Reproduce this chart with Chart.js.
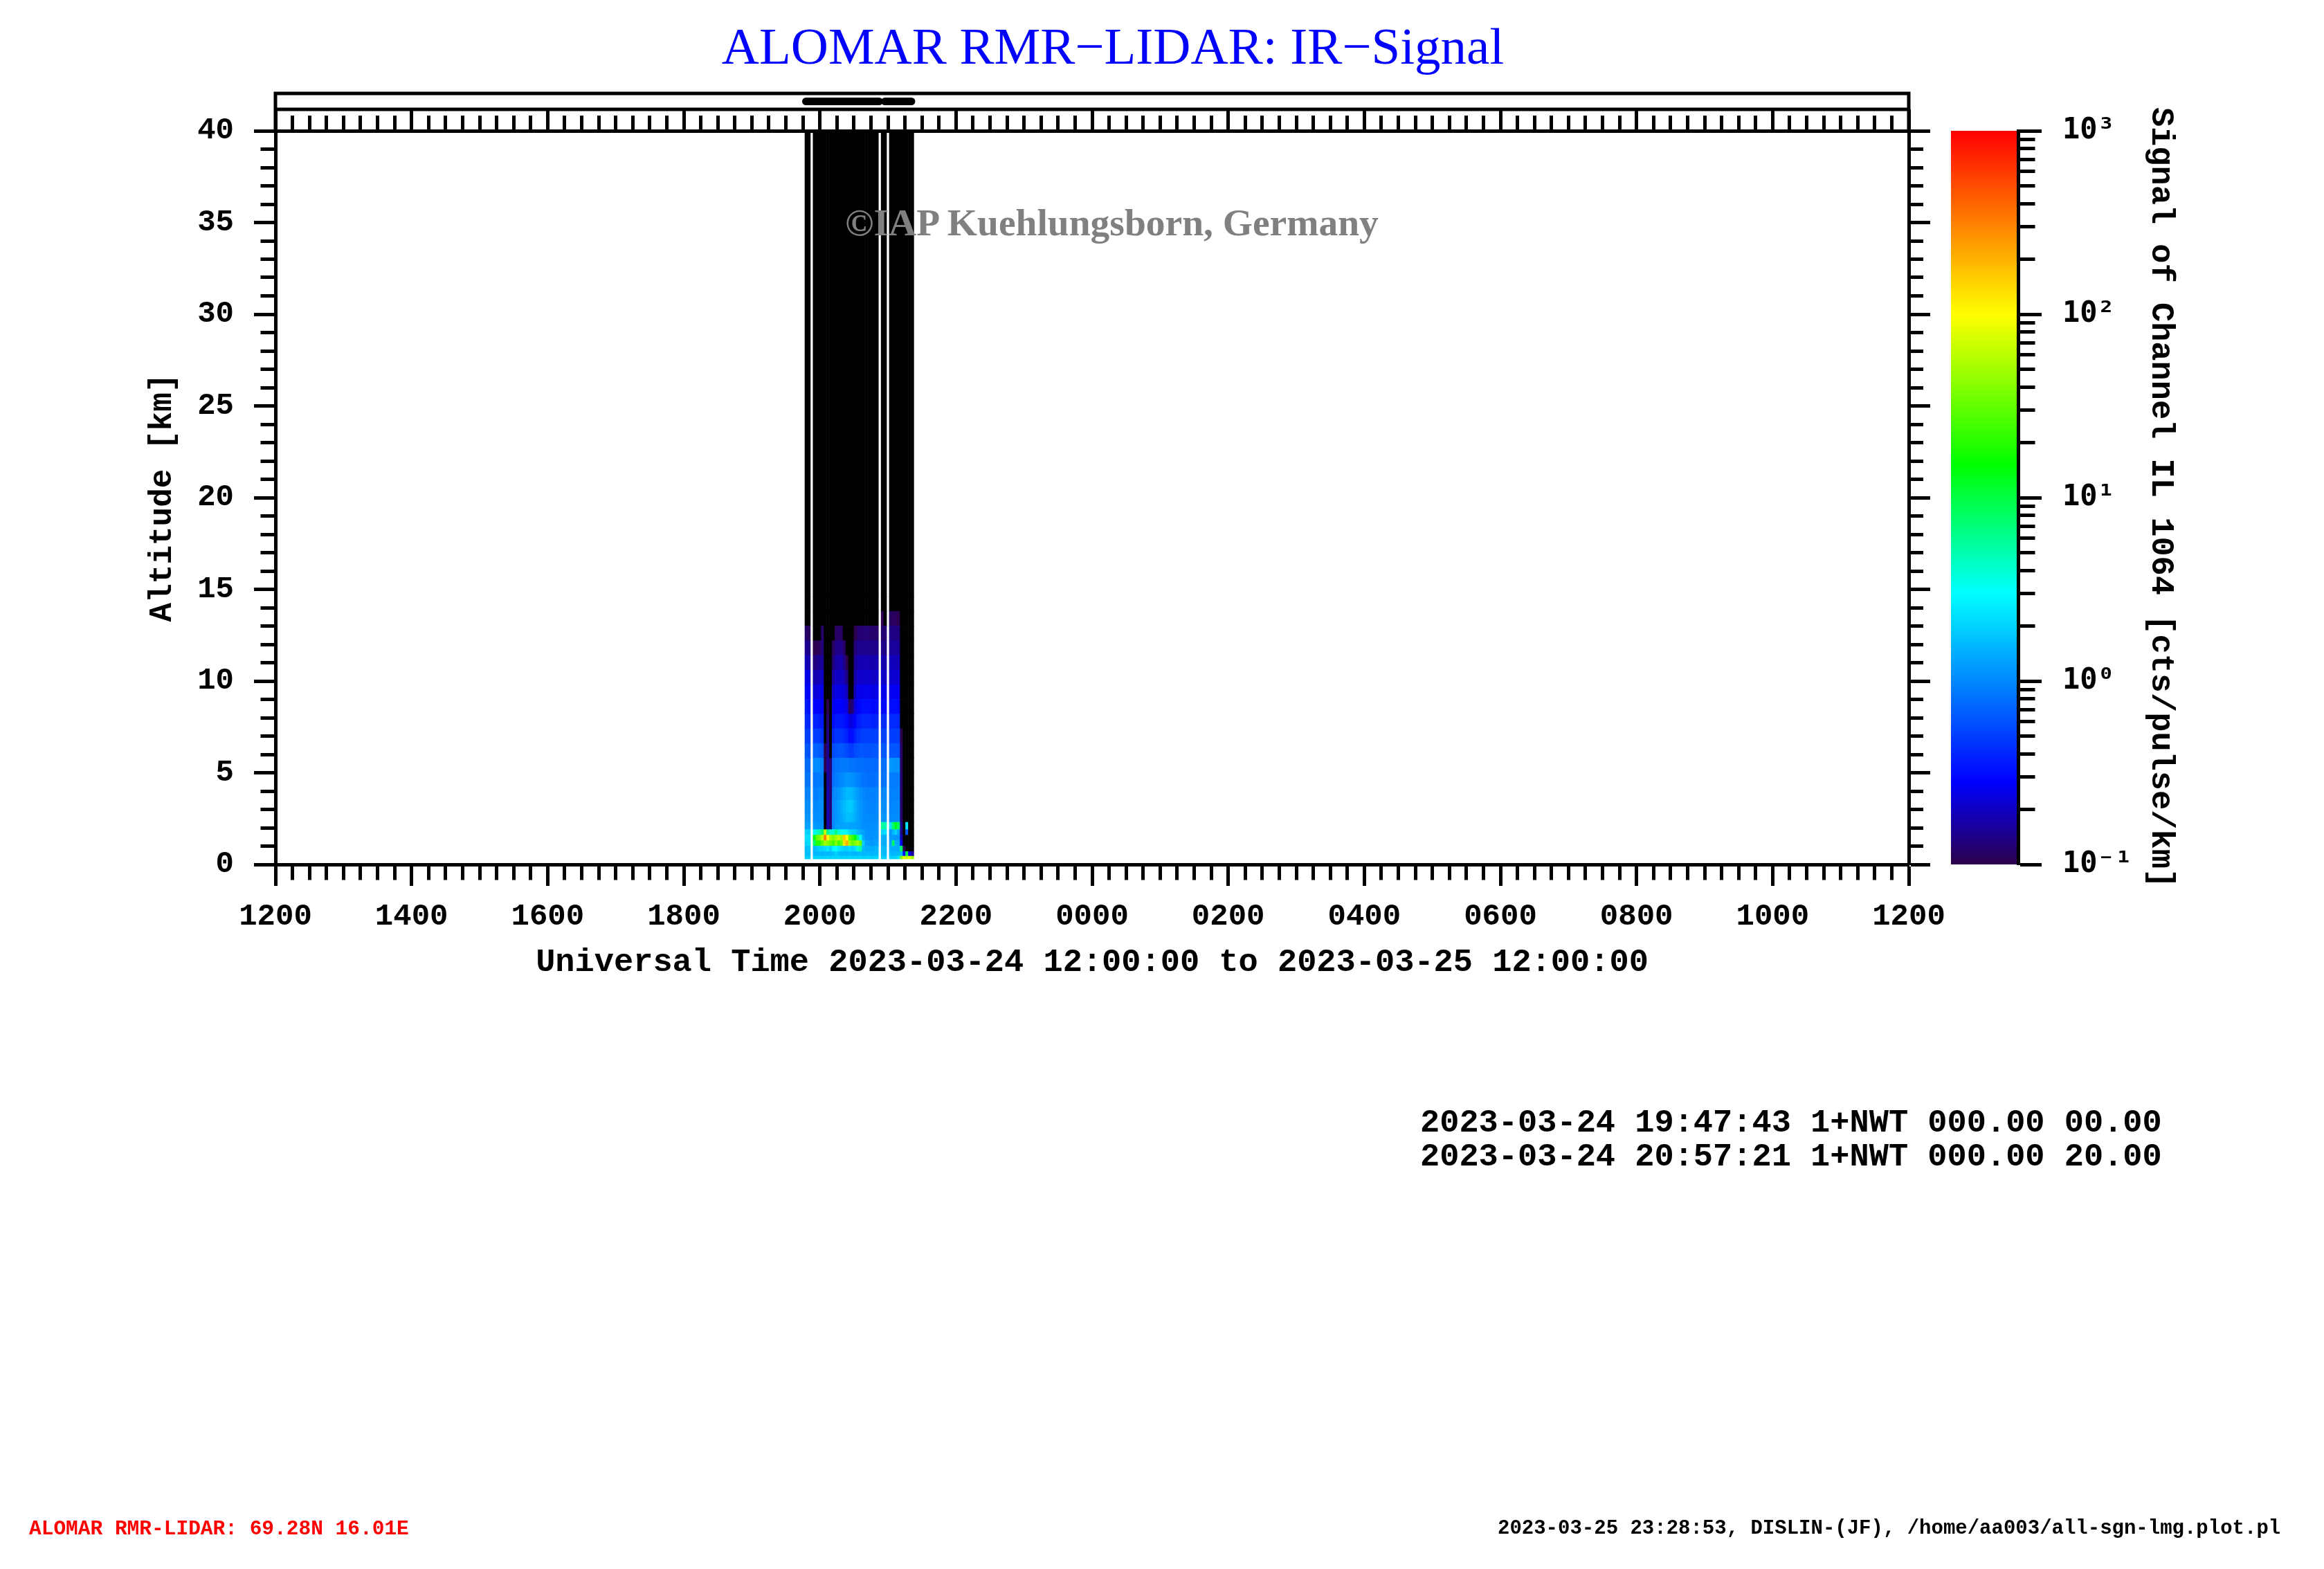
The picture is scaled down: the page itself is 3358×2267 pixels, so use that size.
<!DOCTYPE html>
<html><head><meta charset="utf-8">
<script src="https://cdn.jsdelivr.net/npm/chart.js@4.4.1/dist/chart.umd.min.js"></script>
<style>
html,body{margin:0;padding:0;background:#fff;}
#wrap{position:relative;width:3358px;height:2267px;overflow:hidden;background:#fff;}
#c{position:absolute;left:0;top:0;}
.t{position:absolute;white-space:pre;line-height:1;margin:0;}
</style></head><body>
<div id="wrap">
<canvas id="c" width="3358" height="2267"></canvas>
<div class="t" style="left:1221px;top:290px;font:bold 55.5px 'Liberation Serif';color:#808080;">©IAP Kuehlungsborn, Germany</div>
<div class="t" id="run0" style="left:2052px;top:1596px;font:bold 47px 'Liberation Mono';color:#000;"></div>
<div class="t" id="run1" style="left:2052px;top:1645px;font:bold 47px 'Liberation Mono';color:#000;"></div>
<div class="t" style="left:42px;top:2192px;font:bold 29.5px 'Liberation Mono';color:#ff0000;">ALOMAR RMR-LIDAR: 69.28N 16.01E</div>
<div class="t" style="left:2164px;top:2192px;font:bold 29px 'Liberation Mono';color:#000;">2023-03-25 23:28:53, DISLIN-(JF), /home/aa003/all-sgn-lmg.plot.pl</div>
</div>
<script>
// ================= DATA =================
// profile column centres, hours after 2023-03-24 12:00 UT
const timeCols = [
  7.80, 7.84,
  7.92, 7.96, 8.00, 8.04,
  8.08, 8.12, 8.16, 8.20,
  8.24, 8.28, 8.32, 8.36, 8.40,
  8.44, 8.48, 8.52,
  8.56, 8.60, 8.64, 8.68, 8.72, 8.76, 8.80, 8.84,
  8.92, 8.96,
  9.04, 9.08, 9.12, 9.16,
  9.20, 9.24, 9.28, 9.32, 9.36
];
// altitude bin edges [km]
const altEdges = [0.3, 0.45, 0.7, 1.0, 1.3, 1.6, 1.9, 2.3, 2.8, 3.5, 4.2, 5.0, 5.8, 6.6, 7.4, 8.2, 9.0, 9.8, 10.6, 11.4, 12.2, 13.0, 13.8, 14.6, 40];
// log10 of signal [cts/pulse/km] per altitude bin (values below -1 = below scale, drawn black)
const sigL00 = [0.30,0.30, 0.32,0.30,0.32,0.30, 0.30,0.32,0.30,0.32, 0.30,0.32,0.30,0.32,0.30, 0.32,0.30,0.32, 0.30,0.32,0.30,0.30,0.32,0.30,0.30,0.32, 0.30,0.30, 0.30,0.30,0.32,0.40, 1.60,1.90,1.80,1.90,1.70];
const sigL01 = [0.22,0.20, 0.18,0.20,0.20,0.18, 0.20,0.18,0.20,0.22, 0.30,0.22,0.20,0.20,0.18, 0.20,0.20,0.18, 0.20,0.22,0.18,0.20,0.20,0.18,0.20,0.20, 0.22,0.20, 0.20,0.18,0.20,0.20, 0.20,-0.50,1.00,-0.60,-0.80];
const sigL02 = [0.22,0.25, 0.20,0.25,0.30,0.30, 0.35,0.40,0.30,0.45, 0.50,0.40,0.35,0.30,0.30, 0.35,0.30,0.35, 0.60,0.70,0.20,0.15,0.15,0.15,0.15,0.18, 0.20,0.20, 0.15,0.15,0.15,0.15, 0.90,-1.00,-1.50,-1.50,-1.20];
const sigL03 = [0.30,0.35, 0.90,1.30,1.30,1.50, 1.70,1.60,1.50,1.40, 1.60,1.40,1.50,2.10,2.30, 1.70,1.50,1.60, 1.70,1.50,0.30,0.10,0.08,0.05,0.08,0.10, 0.15,0.15, 0.10,0.90,0.15,0.12, -0.60,-1.50,-1.50,-1.50,-1.50];
const sigL04 = [0.35,0.35, 1.10,1.50,1.60,1.80, 2.50,2.00,1.70,1.60, 1.70,1.80,1.70,2.20,2.00, 1.50,1.40,1.20, 0.80,0.50,0.15,0.05,0.03,0.03,0.05,0.05, 0.15,0.15, 0.05,0.08,0.05,0.05, -0.75,-1.50,-1.50,-1.50,-1.50];
const sigL05 = [0.30,0.28, 0.45,0.60,0.70,0.90, 1.80,0.80,0.60,0.60, 0.80,0.60,0.50,0.50,0.45, 0.35,0.30,0.28, 0.20,0.15,0.10,0.05,0.03,0.03,0.03,0.05, 0.30,0.35, 0.05,0.20,0.30,0.10, -0.85,-1.50,-0.20,-1.50,-1.50];
const sigL06 = [0.10,0.10, 0.08,0.05,0.05,0.05, -1.50,-0.75,-0.90,0.00, 0.08,0.10,0.10,0.12,0.12, 0.10,0.10,0.10, 0.08,0.05,0.03,0.02,0.02,0.02,0.02,0.03, 0.75,0.70, 0.35,0.90,1.10,0.90, -0.80,-1.50,0.40,-1.50,-1.50];
const sigL07 = [0.05,0.05, 0.03,0.03,0.03,0.02, -1.50,-0.75,-0.90,0.00, 0.05,0.08,0.12,0.18,0.22, 0.22,0.20,0.15, 0.10,0.05,0.02,0.00,0.00,0.00,0.00,0.00, 0.05,0.05, 0.00,0.02,0.02,0.02, -0.92,-1.50,-1.50,-1.50,-1.50];
const sigL08 = [0.02,0.02, 0.00,0.00,0.02,0.02, -1.50,-0.75,-0.90,0.00, 0.05,0.10,0.15,0.20,0.25, 0.28,0.25,0.18, 0.10,0.05,0.02,0.00,-0.02,-0.02,-0.02,0.00, 0.02,0.02, -0.02,0.00,0.00,0.00, -0.92,-1.50,-1.50,-1.50,-1.50];
const sigL09 = [-0.02,-0.02, -0.03,-0.03,0.00,0.00, -1.50,-0.75,-0.90,-0.02, 0.02,0.05,0.10,0.15,0.20, 0.20,0.18,0.12, 0.08,0.03,0.00,-0.03,-0.03,-0.03,-0.03,-0.02, 0.00,0.00, -0.03,-0.02,-0.02,-0.03, -0.92,-1.50,-1.50,-1.50,-1.50];
const sigL10 = [-0.08,-0.08, -0.08,-0.06,-0.05,-0.05, -1.50,-0.78,-0.90,-0.10, -0.05,-0.03,0.00,0.03,0.05, 0.05,0.03,0.00, -0.03,-0.05,-0.08,-0.08,-0.10,-0.10,-0.10,-0.08, -0.08,-0.08, -0.05,-0.05,-0.05,-0.05, -0.92,-1.50,-1.50,-1.50,-1.50];
const sigL11 = [-0.12,-0.12, 0.00,0.02,0.00,-0.03, -1.00,-0.80,-0.90,-0.12, -0.08,-0.08,-0.06,-0.05,-0.05, -0.08,-0.08,-0.08, -0.10,-0.10,-0.10,-0.12,-0.12,-0.12,-0.12,-0.12, -0.10,-0.10, 0.05,0.05,0.03,0.03, -0.95,-1.50,-1.50,-1.50,-1.50];
const sigL12 = [-0.20,-0.22, -0.15,-0.15,-0.18,-0.20, -1.00,-0.82,-1.30,-0.25, -0.22,-0.20,-0.20,-0.22,-0.25, -0.30,-0.30,-0.25, -0.22,-0.20,-0.20,-0.22,-0.22,-0.22,-0.20,-0.20, -0.20,-0.20, -0.20,-0.20,-0.20,-0.22, -0.95,-1.50,-1.50,-1.50,-1.50];
const sigL13 = [-0.30,-0.30, -0.30,-0.30,-0.32,-0.35, -1.50,-0.85,-1.50,-0.40, -0.35,-0.35,-0.35,-0.38,-0.42, -0.50,-0.50,-0.42, -0.35,-0.32,-0.30,-0.30,-0.30,-0.30,-0.30,-0.30, -0.28,-0.28, -0.30,-0.30,-0.30,-0.30, -1.00,-1.50,-1.50,-1.50,-1.50];
const sigL14 = [-0.38,-0.40, -0.42,-0.42,-0.45,-0.45, -1.50,-0.90,-1.50,-0.50, -0.45,-0.45,-0.45,-0.48,-0.52, -0.62,-0.62,-0.55, -0.45,-0.42,-0.40,-0.40,-0.40,-0.42,-0.42,-0.40, -0.38,-0.38, -0.38,-0.38,-0.38,-0.40, -1.50,-1.50,-1.50,-1.50,-1.50];
const sigL15 = [-0.45,-0.48, -0.55,-0.55,-0.55,-0.55, -1.50,-1.00,-1.50,-0.60, -0.55,-0.55,-0.55,-0.58,-0.62, -0.95,-0.90,-0.65, -0.55,-0.52,-0.50,-0.50,-0.50,-0.52,-0.52,-0.50, -0.52,-0.52, -0.50,-0.50,-0.50,-0.52, -1.50,-1.50,-1.50,-1.50,-1.50];
const sigL16 = [-0.52,-0.55, -0.65,-0.65,-0.62,-0.62, -1.50,-1.50,-1.50,-0.68, -0.62,-0.62,-0.62,-0.65,-0.72, -1.20,-1.10,-0.72, -0.62,-0.60,-0.60,-0.60,-0.60,-0.60,-0.62,-0.60, -0.60,-0.60, -0.60,-0.58,-0.58,-0.60, -1.50,-1.50,-1.50,-1.50,-1.50];
const sigL17 = [-0.60,-0.62, -0.75,-0.75,-0.72,-0.70, -1.50,-1.50,-1.50,-0.78, -0.70,-0.70,-0.70,-0.75,-0.85, -1.50,-1.50,-0.78, -0.70,-0.68,-0.68,-0.68,-0.68,-0.68,-0.70,-0.68, -0.68,-0.70, -0.68,-0.66,-0.66,-0.68, -1.50,-1.50,-1.50,-1.50,-1.50];
const sigL18 = [-0.72,-0.75, -0.88,-0.85,-0.82,-0.80, -1.50,-1.50,-1.50,-0.88, -0.78,-0.76,-0.76,-0.85,-1.00, -1.50,-1.50,-0.82, -0.76,-0.75,-0.74,-0.74,-0.75,-0.75,-0.76,-0.75, -0.75,-0.76, -0.72,-0.72,-0.72,-0.74, -1.50,-1.50,-1.50,-1.50,-1.50];
const sigL19 = [-0.82,-0.85, -1.00,-0.98,-0.95,-0.88, -1.50,-1.50,-1.50,-0.95, -0.85,-0.84,-0.85,-0.92,-1.50, -1.50,-1.50,-0.90, -0.84,-0.84,-0.83,-0.83,-0.84,-0.84,-0.85,-0.84, -0.84,-0.85, -0.80,-0.80,-0.80,-0.82, -1.50,-1.50,-1.50,-1.50,-1.50];
const sigL20 = [-0.92,-0.95, -1.20,-1.10,-1.05,-0.92, -1.50,-1.50,-1.50,-1.20, -0.95,-0.93,-0.95,-1.10,-1.50, -1.50,-1.50,-1.00, -0.92,-0.90,-0.90,-0.90,-0.90,-0.92,-0.92,-0.92, -0.90,-0.90, -0.85,-0.85,-0.86,-0.88, -1.50,-1.50,-1.50,-1.50,-1.50];
const sigL21 = [-1.05,-1.10, -1.50,-1.40,-1.30,-1.05, -1.50,-1.50,-1.50,-1.50, -1.30,-1.20,-1.30,-1.50,-1.50, -1.50,-1.50,-1.30, -1.10,-1.05,-1.05,-1.02,-1.05,-1.05,-1.08,-1.05, -1.00,-1.02, -0.95,-0.95,-0.96,-0.98, -1.50,-1.50,-1.50,-1.50,-1.50];
const sigL22 = [-1.20,-1.50, -1.50,-1.50,-1.50,-1.50, -1.50,-1.50,-1.50,-1.50, -1.50,-1.50,-1.50,-1.50,-1.50, -1.50,-1.50,-1.50, -1.50,-1.50,-1.50,-1.50,-1.50,-1.50,-1.50,-1.50, -1.05,-1.10, -1.02,-1.05,-1.20,-1.50, -1.50,-1.50,-1.50,-1.50,-1.50];
const sigL23 = [-1.50,-1.50, -1.50,-1.50,-1.50,-1.50, -1.50,-1.50,-1.50,-1.50, -1.50,-1.50,-1.50,-1.50,-1.50, -1.50,-1.50,-1.50, -1.50,-1.50,-1.50,-1.50,-1.50,-1.50,-1.50,-1.50, -1.50,-1.50, -1.50,-1.50,-1.50,-1.50, -1.50,-1.50,-1.50,-1.50,-1.50];

// axis tick labels
const xTickLabels = ['1200','1400','1600','1800','2000','2200','0000','0200','0400','0600','0800','1000','1200'];
const cbarMajor = [0.1, 1, 10, 100, 1000];
const cbarLabels = ['10⁻¹','10⁰','10¹','10²','10³'];
const cbarMinorMult = [2, 3, 4, 5, 6, 7, 8, 9];
// measurement runs (hours after 12:00 UT) and their header lines
const runStart = [7.795, 8.956];
const runEnd = [8.870, 9.345];
const runInfo = ['2023-03-24 19:47:43 1+NWT 000.00 00.00', '2023-03-24 20:57:21 1+NWT 000.00 20.00'];

// ================= STYLE =================
const cmapPos = [-1.0, -0.55, 0.48, 1.18, 2.0, 3.0];
const cmapRGB = [[45,0,75],[0,0,255],[0,255,255],[0,255,0],[255,255,0],[255,0,0]];
function rgbStr(c){ return 'rgb(' + c.map(Math.round).join(',') + ')'; }
function colorFor(v){
  if (v < cmapPos[0]) return '#000000';
  const n = cmapPos.length;
  if (v >= cmapPos[n-1]) return rgbStr(cmapRGB[n-1]);
  for (let k = 0; k < n-1; k++) {
    if (v <= cmapPos[k+1]) {
      const t = (v - cmapPos[k]) / (cmapPos[k+1] - cmapPos[k]);
      return rgbStr(cmapRGB[k].map((c, j) => c + (cmapRGB[k+1][j] - c) * t));
    }
  }
  return '#000000';
}

document.getElementById('run0').textContent = runInfo[0];
document.getElementById('run1').textContent = runInfo[1];

const layerRows = [sigL00,sigL01,sigL02,sigL03,sigL04,sigL05,sigL06,sigL07,sigL08,sigL09,sigL10,sigL11,
                   sigL12,sigL13,sigL14,sigL15,sigL16,sigL17,sigL18,sigL19,sigL20,sigL21,sigL22,sigL23];

const datasets = layerRows.map((row, L) => ({
  label: altEdges[L] + '-' + altEdges[L+1] + ' km',
  data: timeCols.map(t => ({x: t, y: [altEdges[L], altEdges[L+1]]})),
  backgroundColor: row.map(colorFor),
  borderWidth: 0,
  grouped: false,
  barPercentage: 1,
  categoryPercentage: 1,
  xAxisID: 'x',
  yAxisID: 'y'
}));

const cbarTickVals = [];
cbarMajor.forEach((m, k) => {
  cbarTickVals.push(m);
  if (k < cbarMajor.length - 1) cbarMinorMult.forEach(d => cbarTickVals.push(m * d));
});

const isEvenHour = v => Math.abs(v / 2 - Math.round(v / 2)) < 1e-6;
const isFive = v => Math.abs(v / 5 - Math.round(v / 5)) < 1e-6;
const isDecade = v => cbarMajor.some(m => Math.abs(v - m) < 1e-9 * Math.max(1, m));
const monoB = (size) => ({family: "'Liberation Mono', monospace", size: size, weight: 'bold'});

Chart.defaults.color = '#000';
Chart.defaults.font.family = "'Liberation Mono', monospace";

const colorBarPlugin = {
  id: 'colorBar',
  beforeDraw(chart) {
    const yc = chart.scales.yc, sp = chart.scales.cbsp, ctx = chart.ctx;
    const top = yc.getPixelForValue(cbarMajor[cbarMajor.length - 1]);
    const bot = yc.getPixelForValue(cbarMajor[0]);
    const g = ctx.createLinearGradient(0, bot, 0, top);
    const p0 = cmapPos[0], p1 = cmapPos[cmapPos.length - 1];
    cmapPos.forEach((p, k) => g.addColorStop((p - p0) / (p1 - p0), rgbStr(cmapRGB[k])));
    ctx.save();
    ctx.fillStyle = g;
    ctx.fillRect(sp.left + 11, top, yc.left - sp.left - 11, bot - top);
    ctx.restore();
  }
};

const topStripPlugin = {
  id: 'topStrip',
  afterDraw(chart) {
    const xt = chart.scales.xt, ctx = chart.ctx, ca = chart.chartArea;
    const top = xt.top, mid = xt.top + 23, bot = xt.bottom;
    ctx.save();
    ctx.strokeStyle = '#000';
    ctx.lineWidth = 5;
    ctx.beginPath();
    ctx.moveTo(ca.left, bot); ctx.lineTo(ca.left, top); ctx.lineTo(ca.right, top); ctx.lineTo(ca.right, bot);
    ctx.moveTo(ca.left, mid); ctx.lineTo(ca.right, mid);
    ctx.stroke();
    ctx.lineWidth = 11;
    ctx.lineCap = 'round';
    ctx.beginPath();
    for (let k = 0; k < runStart.length; k++) {
      const y = (top + mid) / 2;
      ctx.moveTo(xt.getPixelForValue(runStart[k]), y);
      ctx.lineTo(xt.getPixelForValue(runEnd[k]), y);
    }
    ctx.stroke();
    ctx.restore();
  }
};

const tickGrid = (len, minorLen, minorOffset, majorFn) => ({
  display: true, offset: false, drawOnChartArea: false, drawTicks: true,
  tickLength: len, tickWidth: 5, tickColor: '#000',
  tickBorderDash: c => (c.tick && !majorFn(c.tick.value)) ? [minorLen, 300] : [],
  tickBorderDashOffset: c => (c.tick && !majorFn(c.tick.value)) ? minorOffset : 0
});
const blackBorder = {display: true, color: '#000', width: 5};

new Chart(document.getElementById('c'), {
  type: 'bar',
  data: {datasets: datasets},
  options: {
    responsive: false,
    animation: false,
    devicePixelRatio: 1,
    events: [],
    layout: {padding: {top: 27, left: 40, right: 182, bottom: 818}},
    plugins: {
      legend: {display: false},
      tooltip: {enabled: false},
      title: {
        display: true,
        text: 'ALOMAR RMR\u2212LIDAR: IR\u2212Signal',
        color: '#0000ff',
        font: {family: "'Liberation Serif', serif", size: 75, weight: 'normal', lineHeight: 1.2},
        padding: {top: 0, bottom: 18}
      }
    },
    scales: {
      x: {
        type: 'linear', position: 'bottom', min: 0, max: 24, offset: false,
        afterFit: s => { s.height = 200; },
        grid: tickGrid(31, 19.5, 0, isEvenHour),
        border: blackBorder,
        ticks: {
          stepSize: 0.25, autoSkip: false, maxRotation: 0, minRotation: 0, padding: 19,
          color: '#000', font: monoB(44),
          callback: v => isEvenHour(v) ? xTickLabels[Math.round(v / 2)] : ''
        },
        title: {
          display: true, color: '#000', font: monoB(47),
          text: 'Universal Time 2023-03-24 12:00:00 to 2023-03-25 12:00:00',
          padding: {top: 0, bottom: 29.8}
        }
      },
      xt: {
        type: 'linear', position: 'top', min: 0, max: 24, offset: false,
        afterFit: s => { s.height = 54; },
        grid: tickGrid(31, 20, -9, isEvenHour),
        border: blackBorder,
        ticks: {stepSize: 0.25, autoSkip: false, maxRotation: 0, display: false}
      },
      y: {
        type: 'linear', position: 'left', min: 0, max: 40,
        afterFit: s => { s.width = 358; },
        grid: tickGrid(31, 20, -9.5, isFive),
        border: blackBorder,
        ticks: {
          stepSize: 1, autoSkip: false, padding: 29, color: '#000', font: monoB(44),
          callback: v => isFive(v) ? String(Math.round(v)) : ''
        },
        title: {
          display: true, color: '#000', font: monoB(46), text: 'Altitude [km]',
          padding: {top: 168, bottom: 0}
        }
      },
      yr: {
        type: 'linear', position: 'right', min: 0, max: 40, weight: 0,
        afterFit: s => { s.width = 50; },
        grid: tickGrid(31, 18, 0, isFive),
        border: blackBorder,
        ticks: {stepSize: 1, autoSkip: false, display: false}
      },
      cbsp: {
        type: 'linear', position: 'right', weight: 1, min: 0, max: 1,
        afterFit: s => { s.width = 108; },
        grid: {display: false, drawTicks: false},
        border: {display: false},
        ticks: {display: false}
      },
      yc: {
        type: 'logarithmic', position: 'right', min: 0.1, max: 1000, weight: 2,
        afterBuildTicks: s => { s.ticks = cbarTickVals.map(v => ({value: v, major: isDecade(v)})); },
        afterFit: s => { s.width = 260; },
        grid: tickGrid(34, 21.5, 0, isDecade),
        border: blackBorder,
        ticks: {
          autoSkip: false, padding: 30, color: '#000',
          font: {family: "'DejaVu Sans Mono', monospace", size: 42, weight: 'bold'},
          callback: v => { const k = cbarMajor.findIndex(m => Math.abs(v - m) < 1e-9 * Math.max(1, m)); return k >= 0 ? cbarLabels[k] : ''; }
        },
        title: {
          display: true, color: '#000', font: monoB(47),
          text: 'Signal of Channel IL 1064 [cts/pulse/km]',
          padding: {top: 25.8, bottom: 0}
        }
      }
    }
  },
  plugins: [colorBarPlugin, topStripPlugin]
});
</script>
</body></html>
